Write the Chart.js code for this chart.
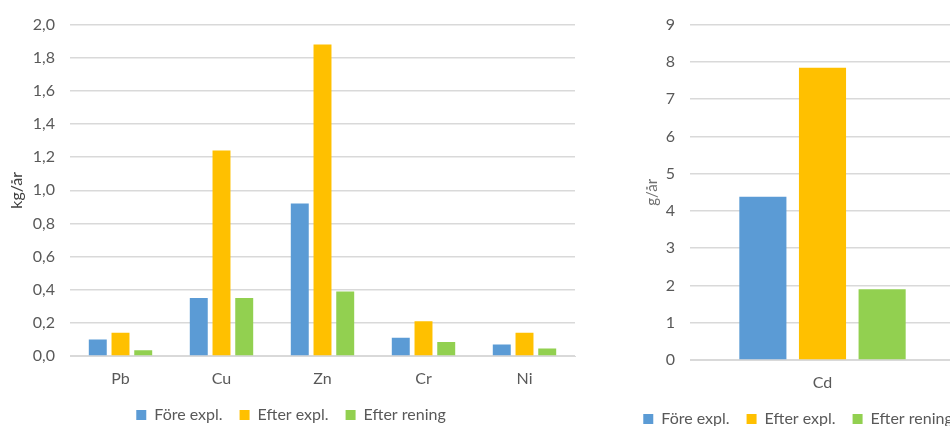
<!DOCTYPE html>
<html>
<head>
<meta charset="utf-8">
<script src="https://cdn.jsdelivr.net/npm/chart.js@4"></script>
<style>
  html, body { margin: 0; padding: 0; background: #fff; overflow: hidden; width: 950px; height: 426px; }
  #leftBox { position: absolute; left: 0; top: 0; width: 582px; height: 433px; }
  #rightBox { position: absolute; left: 600px; top: 0; width: 396px; height: 437px; }
</style>
</head>
<body>
<div id="leftBox"><canvas id="metalChart"></canvas></div>
<div id="rightBox"><canvas id="cdChart"></canvas></div>
<script>
// metaller i kg/år
const metals = ['Pb', 'Cu', 'Zn', 'Cr', 'Ni'];
const foreExpl = [0.10, 0.35, 0.92, 0.11, 0.07];
const efterExpl = [0.14, 1.24, 1.88, 0.21, 0.14];
const efterRening = [0.035, 0.35, 0.39, 0.085, 0.046];

// kadmium i g/år
const cdLabel = ['Cd'];
const cdFore = [4.38];
const cdEfter = [7.84];
const cdRening = [1.90];

const seriesNames = ['Före expl.', 'Efter expl.', 'Efter rening'];
const colors = ['#5B9BD5', '#FFC000', '#92D050'];

const txt = '#595959';
const gridCol = '#d9d9d9';
const fontFam = 'Lato, "Open Sans", sans-serif';

function makeDatasets(a, b, c) {
    return [a, b, c].map((d, i) => ({
        label: seriesNames[i],
        data: d,
        backgroundColor: colors[i],
        categoryPercentage: 0.675,
        barPercentage: 0.79
    }));
}

// ax: max, step, title, titleColor, titleSize, titleOffset, width, right, fmt
function makeOptions(ax) {
    return {
        responsive: true,
        maintainAspectRatio: false,
        animation: false,
        layout: { padding: { top: 19, right: 0, bottom: 0, left: 0 } },
        plugins: {
            legend: {
                position: 'bottom',
                labels: { boxWidth: 10, boxHeight: 10, color: txt, padding: 17, font: { family: fontFam, size: 16 } }
            },
            tooltip: { enabled: false }
        },
        scales: {
            x: {
                grid: { display: false, drawTicks: false },
                border: { color: gridCol },
                ticks: { color: txt, padding: 13, font: { family: fontFam, size: 16 } },
                afterFit: s => { s.height = 34; }
            },
            y: {
                min: 0,
                max: ax.max,
                ticks: { stepSize: ax.step, color: txt, padding: 15, font: { family: fontFam, size: 16 }, callback: ax.fmt },
                grid: { color: gridCol, drawTicks: false, lineWidth: 1.5 },
                border: { display: false },
                title: {
                    display: true, text: ax.title, color: ax.titleColor,
                    font: { family: fontFam, size: ax.titleSize },
                    padding: { top: ax.titleOffset, bottom: 0 }
                },
                afterFit: s => { s.width = ax.width; }
            },
            // tom axel till höger som håller plats åt diagrammet
            yRight: {
                type: 'linear',
                axis: 'y',
                position: 'right',
                grid: { display: false, drawTicks: false },
                border: { display: false },
                ticks: { display: false },
                afterFit: s => { s.width = ax.right; }
            }
        }
    };
}

new Chart(document.getElementById('metalChart'), {
    type: 'bar',
    data: { labels: metals, datasets: makeDatasets(foreExpl, efterExpl, efterRening) },
    options: makeOptions({
        max: 2, step: 0.2, title: 'kg/år', titleColor: '#404040', titleSize: 16, titleOffset: 7,
        width: 70, right: 7, fmt: v => v.toFixed(1).replace('.', ',')
    })
});

new Chart(document.getElementById('cdChart'), {
    type: 'bar',
    data: { labels: cdLabel, datasets: makeDatasets(cdFore, cdEfter, cdRening) },
    options: makeOptions({
        max: 9, step: 1, title: 'g/år', titleColor: '#6f6f6f', titleSize: 15, titleOffset: 43,
        width: 90, right: 41, fmt: v => v
    })
});
</script>
</body>
</html>
